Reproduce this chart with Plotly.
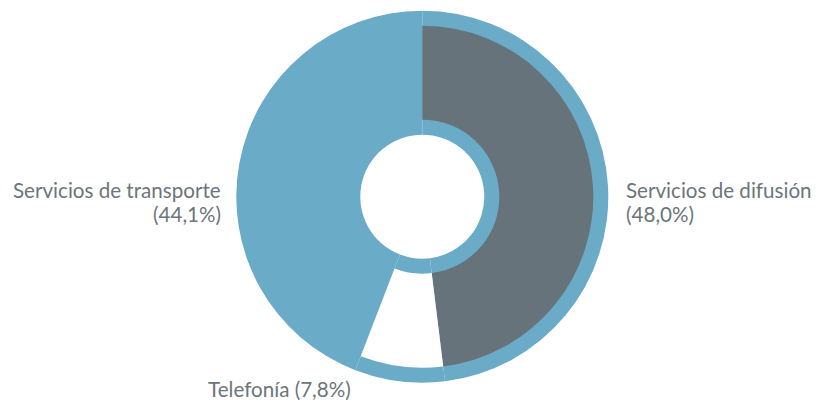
import plotly.graph_objects as go

categories = ["Servicios de difusión", "Telefonía", "Servicios de transporte"]
values = [48.0, 7.8, 44.1]
pct_labels = ["48,0%", "7,8%", "44,1%"]

BLUE = "rgb(106,171,200)"
GRAY = "rgb(102,115,122)"
TEXT = "rgb(107,117,123)"

W, H = 821, 402
OFF = 8  # page body margin
cx, cy = 422.3 - OFF, 196.7 - OFF
R_out, R_hole = 186, 62
R_in_out, R_in_hole = 171, 77


def dom(r):
    return dict(x=[(cx - r) / W, (cx + r) / W],
                y=[(H - (cy + r)) / H, (H - (cy - r)) / H])


def px(x):
    return (x - OFF) / W


def py(y):
    return 1 - (y - OFF) / H


fig = go.Figure()
fig.add_trace(go.Pie(
    labels=categories, values=values, sort=False, direction="clockwise",
    hole=R_hole / R_out, domain=dom(R_out),
    marker=dict(colors=[BLUE] * 3, line=dict(width=0)),
    textinfo="none", hoverinfo="skip", showlegend=False))
fig.add_trace(go.Pie(
    labels=categories, values=values, sort=False, direction="clockwise",
    hole=R_in_hole / R_in_out, domain=dom(R_in_out),
    marker=dict(colors=[GRAY, "white", "rgba(0,0,0,0)"], line=dict(width=0)),
    textinfo="none", hoverinfo="label+percent", showlegend=False))

font = dict(family="Lato", size=20.6, color=TEXT)


def label(x, y, text, anchor):
    fig.add_annotation(x=px(x), y=py(y), xref="paper", yref="paper", text=text,
                       showarrow=False, xanchor=anchor, yanchor="middle",
                       font=font)


label(624, 190, categories[0], "left")
label(624, 214, f"({pct_labels[0]})", "left")
label(223, 190, categories[2], "right")
label(223, 214, f"({pct_labels[2]})", "right")
label(206, 389, f"{categories[1]} ({pct_labels[1]})", "left")

fig.update_layout(width=W, height=H, margin=dict(l=0, r=0, t=0, b=0),
                  paper_bgcolor="white", plot_bgcolor="white")
fig.write_html("out.html")
